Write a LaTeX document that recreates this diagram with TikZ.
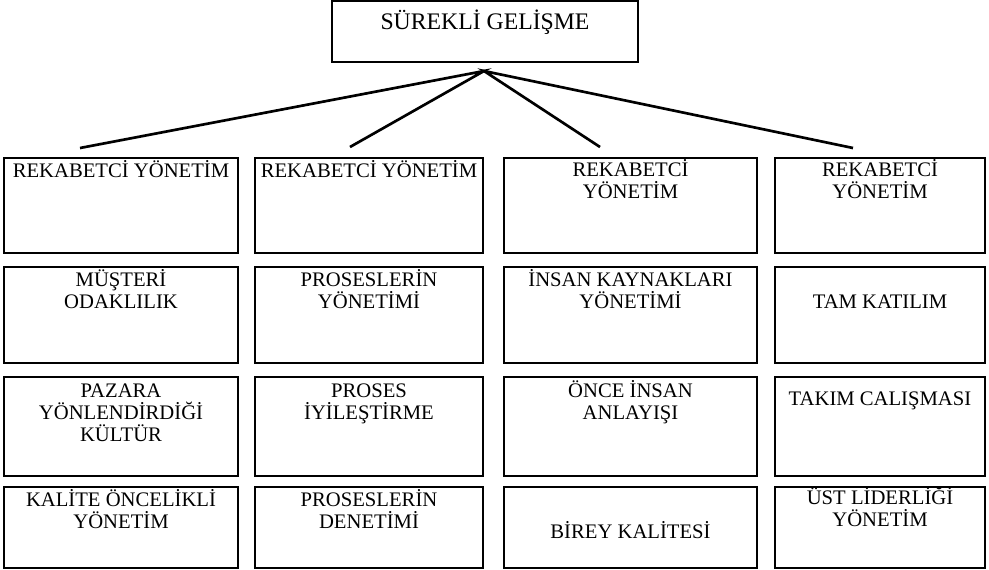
\documentclass[tikz,border=0pt]{standalone}
\usepackage{fontspec}
\setmainfont{Liberation Serif}
\usetikzlibrary{
  fit, % to fit each box around its two corners
}
\tikzset{
  box/.style={ % style for each framed box
    rectangle,draw,line width=1.5pt, % drawn as a thick rectangle
    inner sep=0pt, % the box runs exactly through its corners
  },
  txt/.style={ % style for the texts inside the boxes
    align=center, % lines centred under each other
    font=\fontsize{15.5pt}{15.9pt}\selectfont,
    anchor=base, % placed by the baseline of the last line
    inner sep=0pt,
  },
  conn/.style={ % style for the connections
    line width=2pt,
  },
}
\begin{document}
\begin{tikzpicture}[x=0.75pt,y=-0.75pt]
	\useasboundingbox (0,0) rectangle (989,569);
	
	% top box
	\node[box, fit={(332,1) (638,62)}] (sg) {};
	\node[txt, font=\fontsize{17.8pt}{18pt}\selectfont] (sgt) at (485,29) {SÜREKLİ GELİŞME};
	
	% first row
	\node[box, fit={(4,158) (238,253)}] (a1) {};
	\node[box, fit={(255,158) (483,253)}] (b1) {};
	\node[box, fit={(504,158) (757,253)}] (c1) {};
	\node[box, fit={(775,158) (985,253)}] (d1) {};
	\node[txt] (a1t) at (121,177) {REKABETCİ YÖNETİM};
	\node[txt] (b1t) at (369,177) {REKABETCİ YÖNETİM};
	\node[txt] (c1t) at (630.5,198) {REKABETCİ\\YÖNETİM};
	\node[txt] (d1t) at (880,198) {REKABETCİ\\YÖNETİM};
	
	% second row
	\node[box, fit={(4,267) (238,363)}] (a2) {};
	\node[box, fit={(255,267) (483,363)}] (b2) {};
	\node[box, fit={(504,267) (757,363)}] (c2) {};
	\node[box, fit={(775,267) (985,363)}] (d2) {};
	\node[txt] (a2t) at (121,308) {MÜŞTERİ\\ODAKLILIK};
	\node[txt] (b2t) at (369,308) {PROSESLERİN\\YÖNETİMİ};
	\node[txt] (c2t) at (630.5,308) {İNSAN KAYNAKLARI\\YÖNETİMİ};
	\node[txt] (d2t) at (880,308) {TAM KATILIM};
	
	% third row
	\node[box, fit={(4,377) (238,476)}] (a3) {};
	\node[box, fit={(255,377) (483,476)}] (b3) {};
	\node[box, fit={(504,377) (757,476)}] (c3) {};
	\node[box, fit={(775,377) (985,476)}] (d3) {};
	\node[txt, font=\fontsize{15.5pt}{16.5pt}\selectfont] (a3t) at (121,441) {PAZARA\\YÖNLENDİRDİĞİ\\KÜLTÜR};
	\node[txt, font=\fontsize{15.5pt}{16.5pt}\selectfont] (b3t) at (369,419) {PROSES\\İYİLEŞTİRME};
	\node[txt, font=\fontsize{15.5pt}{16.5pt}\selectfont] (c3t) at (630.5,419) {ÖNCE İNSAN\\ANLAYIŞI};
	\node[txt] (d3t) at (880,405) {TAKIM CALIŞMASI};
	
	% fourth row
	\node[box, fit={(4,487) (238,568)}] (a4) {};
	\node[box, fit={(255,487) (483,568)}] (b4) {};
	\node[box, fit={(504,487) (757,568)}] (c4) {};
	\node[box, fit={(775,487) (985,568)}] (d4) {};
	\node[txt] (a4t) at (121,528) {KALİTE ÖNCELİKLİ\\YÖNETİM};
	\node[txt] (b4t) at (369,528) {PROSESLERİN\\DENETİMİ};
	\node[txt] (c4t) at (630.5,538) {BİREY KALİTESİ};
	\node[txt] (d4t) at (880,526) {ÜST LİDERLİĞİ\\YÖNETİM};
	
	% connections from the top box
	\coordinate (hub) at (484,71);
	\coordinate (e1) at (80,148);
	\coordinate (e2) at (350,147);
	\coordinate (e3) at (600,147);
	\coordinate (e4) at (853,148);
	\draw[conn] (e1) -- (hub) -- (e2);
	\draw[conn] (e3) -- (hub) -- (e4);
\end{tikzpicture}
\end{document}
